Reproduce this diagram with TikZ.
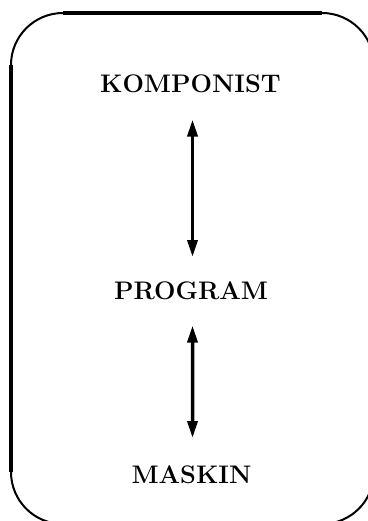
\documentclass[tikz,border=0pt]{standalone}
\usetikzlibrary{arrows.meta}
\begin{document}
\begin{tikzpicture}[x=1bp,y=-1bp,
  word/.style={font=\fontsize{25.5}{30}\selectfont\bfseries, inner sep=0pt, anchor=base},
  side/.style={line width=3.5bp},
  corner/.style={line width=2bp},
  link/.style={line width=3.5bp,
    {Triangle[length=17bp,width=10bp]}-{Triangle[length=17bp,width=10bp]}}]
\useasboundingbox (0,0) rectangle (367,521);

% frame: straight sides heavy, rounded corners lighter
\draw[side] (63,13) -- (322,13);
\draw[side] (11,65) -- (11,472);
\draw[side] (374,65) -- (374,472);
\draw[side] (63,524) -- (322,524);
\draw[corner] (11,65) arc[start angle=180, end angle=270, radius=52];
\draw[corner] (322,13) arc[start angle=270, end angle=360, radius=52];
\draw[corner] (374,472) arc[start angle=0, end angle=90, radius=52];
\draw[corner] (63,524) arc[start angle=90, end angle=180, radius=52];

% the three layers
\node[word] (komp) at (190.5,93) {KOMPONIST};
\node[word] (prog) at (191,299) {PROGRAM};
\node[word] (mask) at (191.5,483) {MASKIN};

% two-way links between the layers
\draw[link, shorten <=26bp, shorten >=24bp] ([xshift=2bp]komp.south) -- ([xshift=1.5bp]prog.north);
\draw[link, shorten <=26bp, shorten >=27bp] ([xshift=1.5bp]prog.south) -- ([xshift=1bp]mask.north);
\end{tikzpicture}
\end{document}
